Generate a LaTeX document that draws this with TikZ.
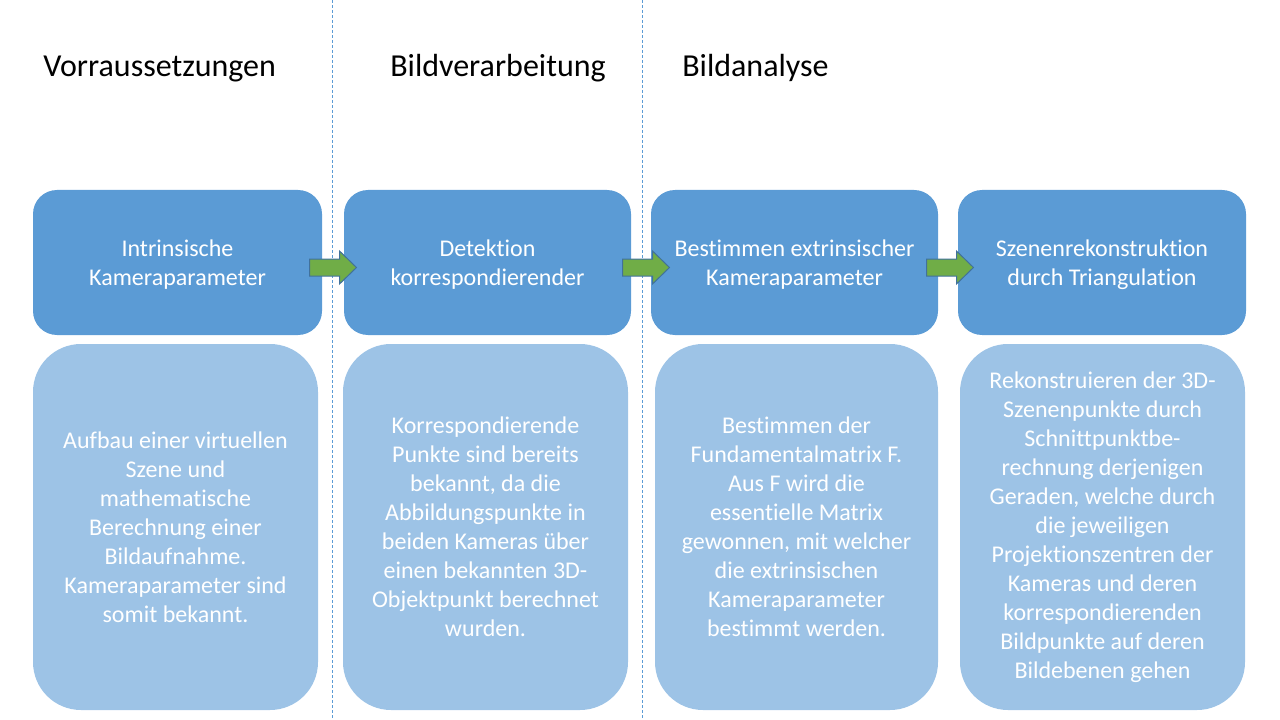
\documentclass[tikz,border=0pt]{standalone}
\usepackage{fontspec}
\setmainfont[Ligatures={NoCommon}]{Carlito}
\usetikzlibrary{calc}
\definecolor{topblue}{HTML}{5B9BD5}
\definecolor{lowblue}{HTML}{9DC3E6}
\definecolor{arrgreen}{HTML}{70AD47}
\definecolor{arrline}{HTML}{41719C}
\definecolor{sepblue}{HTML}{5B9BD5}
\newcommand{\upstrut}{\rule{0pt}{15.5pt}}
\tikzset{
  x=0.75pt, y=-0.75pt,
  topbox/.style={fill=topblue, draw=none, rounded corners=18pt, minimum height=145*0.75pt,
    text=white, align=center, font=\fontsize{18}{21.75}\selectfont, inner sep=0pt},
  lowbox/.style={fill=lowblue, draw=none, rounded corners=36pt, minimum height=366*0.75pt,
    text=white, align=center, font=\fontsize{18}{21.75}\selectfont, inner sep=0pt},
  heading/.style={anchor=base west, font=\fontsize{24}{29}\selectfont, inner sep=0pt},
  blockarrow/.style={fill=arrgreen, draw=arrline, line width=0.75pt, line join=miter},
  sepline/.style={draw=sepblue, line width=0.75pt, dash pattern=on 2.25pt off 1.5pt}
}
\newcommand{\blockarrowat}[1]{%
  \draw[blockarrow] ($(#1)+(-23.5,-8.5)$) -- ($(#1)+(6.5,-8.5)$) -- ($(#1)+(6.5,-16.5)$)
    -- ($(#1)+(23.5,0)$) -- ($(#1)+(6.5,16.5)$) -- ($(#1)+(6.5,8.5)$) -- ($(#1)+(-23.5,8.5)$) -- cycle;}
\begin{document}
\begin{tikzpicture}
\useasboundingbox (0,0) rectangle (1280,720);
\coordinate (s1a) at (332,0); \coordinate (s1b) at (332,720);
\coordinate (s2a) at (642,0); \coordinate (s2b) at (642,720);
\draw[sepline] (s1a) -- (s1b);
\draw[sepline] (s2a) -- (s2b);

\node[heading] (h1) at (43,77) {Vorraussetzungen};
\node[heading] (h2) at (390,77) {Bildverarbeitung};
\node[heading] (h3) at (682,77) {Bildanalyse};

\node[topbox, minimum width=289*0.75pt] (t1) at (177.5,262.5) {\upstrut Intrinsische\\Kameraparameter};
\node[topbox, minimum width=287*0.75pt] (t2) at (487.5,262.5) {\upstrut Detektion\\korrespondierender};
\node[topbox, minimum width=287*0.75pt] (t3) at (794.5,262.5) {\upstrut Bestimmen extrinsischer\\Kameraparameter};
\node[topbox, minimum width=288*0.75pt] (t4) at (1102,262.5) {\upstrut Szenenrekonstruktion\\durch Triangulation};

\node[lowbox, minimum width=285*0.75pt] (b1) at (175.5,527) {Aufbau einer virtuellen\\Szene und\\mathematische\\Berechnung einer\\Bildaufnahme.\\Kameraparameter sind\\somit bekannt.};
\node[lowbox, minimum width=285*0.75pt] (b2) at (485.5,527) {Korrespondierende\\Punkte sind bereits\\bekannt, da die\\Abbildungspunkte in\\beiden Kameras über\\einen bekannten 3D-\\Objektpunkt berechnet\\wurden.};
\node[lowbox, minimum width=283*0.75pt] (b3) at (796.5,527) {Bestimmen der\\Fundamentalmatrix F.\\Aus F wird die\\essentielle Matrix\\gewonnen, mit welcher\\die extrinsischen\\Kameraparameter\\bestimmt werden.};
\node[lowbox, minimum width=285*0.75pt] (b4) at (1102.5,527) {Rekonstruieren der 3D-\\Szenenpunkte durch\\Schnittpunktbe-\\rechnung derjenigen\\Geraden, welche durch\\die jeweiligen\\Projektionszentren der\\Kameras und deren\\korrespondierenden\\Bildpunkte auf deren\\Bildebenen gehen};

\coordinate (a1) at ($(t1.east)!0.5!(t2.west)+(0,5)$);
\coordinate (a2) at ($(t2.east)!0.5!(t3.west)+(5,5)$);
\coordinate (a3) at ($(t3.east)!0.5!(t4.west)+(2,5)$);
\blockarrowat{a1}
\blockarrowat{a2}
\blockarrowat{a3}
\end{tikzpicture}
\end{document}
